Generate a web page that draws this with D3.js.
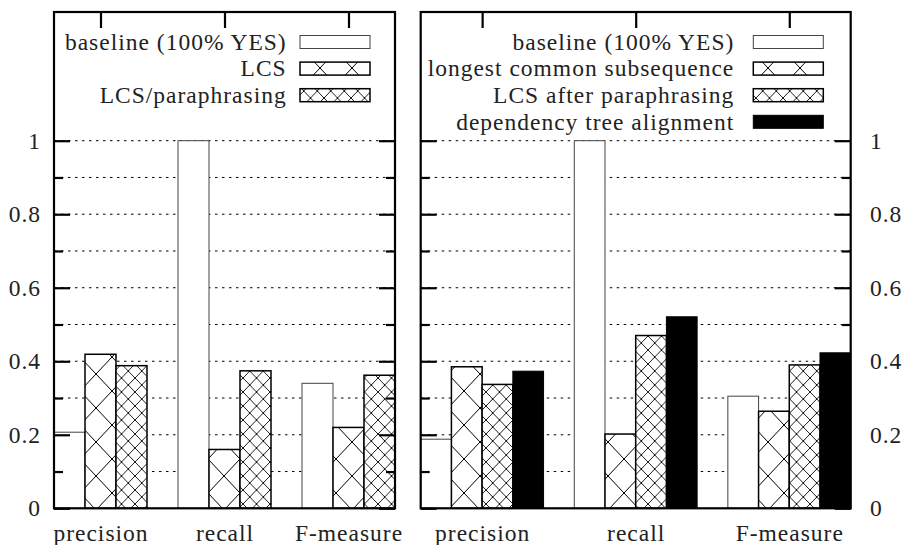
<!DOCTYPE html>
<html>
<head>
<meta charset="utf-8">
<script src="https://cdn.jsdelivr.net/npm/d3@7"></script>
</head>
<body style="margin:0;background:#fff">
<svg id="chart"></svg>
<script>
// data
const metrics = ["precision", "recall", "F-measure"];
const yTicks = [0, 0.2, 0.4, 0.6, 0.8, 1];
const yMinorTicks = [0.1, 0.3, 0.5, 0.7, 0.9];
const gridValues = [0.1, 0.2, 0.3, 0.4, 0.5, 0.6, 0.7, 0.8, 0.9, 1];

const leftSeries = ["baseline (100% YES)", "LCS", "LCS/paraphrasing"];
const leftBaseline = [0.207, 1.0, 0.340];
const leftLcs = [0.419, 0.160, 0.220];
const leftLcsPara = [0.388, 0.374, 0.362];

const rightSeries = ["baseline (100% YES)", "longest common subsequence", "LCS after paraphrasing", "dependency tree alignment"];
const rightBaseline = [0.188, 1.0, 0.305];
const rightLcs = [0.385, 0.202, 0.264];
const rightLcsPara = [0.337, 0.470, 0.390];
const rightDep = [0.373, 0.521, 0.423];

const width = 906;
const height = 545;
const frameTop = 12;
const frameBottom = 508.3;
const fontSize = 23.5;
const fontName = "'Liberation Serif'";

const svg = d3.select("#chart")
  .attr("width", width)
  .attr("height", height)
  .attr("viewBox", [0, 0, width, height]);

// hatch patterns (crossed diagonals)
const defs = svg.append("defs");
function hatch(id, w, h, sw) {
  const p = defs.append("pattern")
    .attr("id", id)
    .attr("patternUnits", "userSpaceOnUse")
    .attr("width", w)
    .attr("height", h);
  p.append("rect").attr("width", w).attr("height", h).attr("fill", "#fff");
  let d = "";
  for (let i = -1; i <= 1; i++) {
    for (let j = -1; j <= 1; j++) {
      const ox = i * w, oy = j * h;
      d += `M${ox},${oy}L${ox + w},${oy + h}M${ox + w},${oy}L${ox},${oy + h}`;
    }
  }
  p.append("path").attr("d", d).attr("stroke", "#000").attr("stroke-width", sw).attr("fill", "none");
}
hatch("wide", 32, 34, 1);
hatch("dense", 13.5, 14, 0.9);

const styles = {
  baseline: { fill: "#fff", stroke: "#444", sw: 1 },
  lcs: { fill: "url(#wide)", stroke: "#000", sw: 1.5 },
  para: { fill: "url(#dense)", stroke: "#000", sw: 1.5 },
  dep: { fill: "#000", stroke: "#000", sw: 1 }
};

const y = d3.scaleLinear().domain([0, 1]).range([frameBottom, 140.7]);

function serifText(sel) {
  sel.style("font-family", fontName)
    .style("font-size", fontSize + "px")
    .style("letter-spacing", "1px")
    .attr("fill", "#222");
}

function axisText(g) {
  g.attr("font-family", null).attr("font-size", null);
  g.selectAll("text").call(serifText);
}

function drawPanel(opt) {
  const { x0, x1, domain, series, barW, legendText, legendBox, labelRight } = opt;
  const n = series.length;
  const x = d3.scaleLinear().domain(domain).range([x0, x1]);
  const g = svg.append("g");

  // dotted grid
  g.append("g")
    .selectAll("line")
    .data(gridValues)
    .join("line")
    .attr("x1", x0)
    .attr("x2", x1)
    .attr("y1", d => y(d))
    .attr("y2", d => y(d))
    .attr("stroke", "#000")
    .attr("stroke-width", 1)
    .attr("stroke-dasharray", "2.5,4.5");

  // bars
  series.forEach((s, j) => {
    const st = styles[s.style];
    g.append("g")
      .selectAll("rect")
      .data(s.values)
      .join("rect")
      .attr("x", (d, i) => x(i - n * barW / 2 + j * barW))
      .attr("width", (d, i) => x(i - n * barW / 2 + (j + 1) * barW) - x(i - n * barW / 2 + j * barW))
      .attr("y", d => y(d))
      .attr("height", d => y(0) - y(d))
      .attr("fill", st.fill)
      .attr("stroke", st.stroke)
      .attr("stroke-width", st.sw);
  });

  // ticks on left and right frame edges, pointing inward
  g.append("g")
    .attr("transform", `translate(${x0},0)`)
    .call(d3.axisLeft(y).tickValues(yTicks).tickSize(-16).tickFormat(""))
    .call(a => a.select(".domain").remove())
    .call(a => a.selectAll("line").attr("stroke-width", 2.2));
  g.append("g")
    .attr("transform", `translate(${x0},0)`)
    .call(d3.axisLeft(y).tickValues(yMinorTicks).tickSize(-9).tickFormat(""))
    .call(a => a.select(".domain").remove())
    .call(a => a.selectAll("line").attr("stroke-width", 2.2));
  g.append("g")
    .attr("transform", `translate(${x1},0)`)
    .call(d3.axisRight(y).tickValues(yTicks).tickSize(-16).tickFormat(""))
    .call(a => a.select(".domain").remove())
    .call(a => a.selectAll("line").attr("stroke-width", 2.2));
  g.append("g")
    .attr("transform", `translate(${x1},0)`)
    .call(d3.axisRight(y).tickValues(yMinorTicks).tickSize(-9).tickFormat(""))
    .call(a => a.select(".domain").remove())
    .call(a => a.selectAll("line").attr("stroke-width", 2.2));

  // y labels
  if (labelRight) {
    g.append("g")
      .attr("transform", `translate(${x1},0)`)
      .call(d3.axisRight(y).tickValues(yTicks).tickSize(0).tickPadding(19.3).tickFormat(d3.format("~g")))
      .call(a => a.select(".domain").remove())
      .call(axisText);
  } else {
    g.append("g")
      .attr("transform", `translate(${x0},0)`)
      .call(d3.axisLeft(y).tickValues(yTicks).tickSize(0).tickPadding(13).tickFormat(d3.format("~g")))
      .call(a => a.select(".domain").remove())
      .call(axisText);
  }

  // top ticks at the category centres
  g.append("g")
    .attr("transform", `translate(0,${frameTop})`)
    .call(d3.axisTop(x).tickValues(d3.range(metrics.length)).tickSize(-16).tickFormat(""))
    .call(a => a.select(".domain").remove())
    .call(a => a.selectAll("line").attr("stroke-width", 2.2));

  // category labels
  g.append("g")
    .attr("transform", `translate(0,${frameBottom})`)
    .call(d3.axisBottom(x).tickValues(d3.range(metrics.length)).tickSize(0).tickPadding(16.4).tickFormat(i => metrics[i]))
    .call(a => a.select(".domain").remove())
    .call(axisText);

  // frame
  g.append("rect")
    .attr("x", x0)
    .attr("y", frameTop)
    .attr("width", x1 - x0)
    .attr("height", frameBottom - frameTop)
    .attr("fill", "none")
    .attr("stroke", "#000")
    .attr("stroke-width", 2.2);

  // legend
  const key = g.append("g");
  series.forEach((s, j) => {
    const cy = 42 + j * 26.6;
    const st = styles[s.style];
    key.append("text")
      .attr("x", legendText + 1)
      .attr("y", cy)
      .attr("text-anchor", "end")
      .attr("dy", "0.33em")
      .call(serifText)
      .text(s.name);
    key.append("rect")
      .attr("x", legendBox)
      .attr("y", cy - 6.5)
      .attr("width", 70)
      .attr("height", 13)
      .attr("fill", st.fill)
      .attr("stroke", st.stroke)
      .attr("stroke-width", st.sw);
  });
}

drawPanel({
  x0: 54, x1: 395,
  domain: [-0.375, 2.375],
  barW: 0.25,
  legendText: 285.7,
  legendBox: 300,
  labelRight: false,
  series: [
    { name: leftSeries[0], values: leftBaseline, style: "baseline" },
    { name: leftSeries[1], values: leftLcs, style: "lcs" },
    { name: leftSeries[2], values: leftLcsPara, style: "para" }
  ]
});

drawPanel({
  x0: 420.7, x1: 850.7,
  domain: [-0.4, 2.4],
  barW: 0.2,
  legendText: 733.3,
  legendBox: 753.3,
  labelRight: true,
  series: [
    { name: rightSeries[0], values: rightBaseline, style: "baseline" },
    { name: rightSeries[1], values: rightLcs, style: "lcs" },
    { name: rightSeries[2], values: rightLcsPara, style: "para" },
    { name: rightSeries[3], values: rightDep, style: "dep" }
  ]
});
</script>
</body>
</html>
